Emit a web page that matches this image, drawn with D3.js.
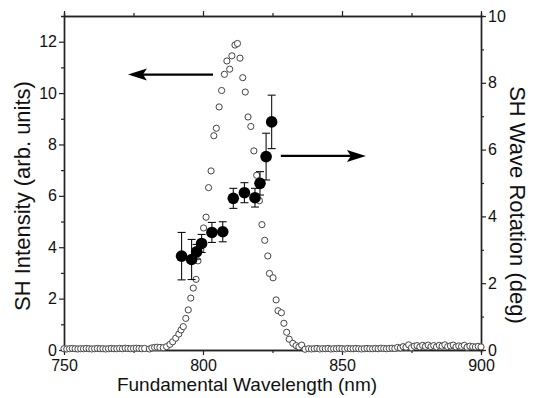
<!DOCTYPE html>
<html>
<head>
<meta charset="utf-8">
<script src="https://cdn.jsdelivr.net/npm/d3@7"></script>
<style>
  body { margin: 0; background: #fff; }
  text { font-family: "Liberation Sans", Arial, sans-serif; fill: #111; }
</style>
</head>
<body>
<svg width="534" height="398"></svg>
<script>
// SH intensity (open circles, left axis)
var shWl = [750,751,752,753,754,755,756,757,758,759,760,761,762,763,764,765,766,767,768,769,
  770,771,772,773,774,775,776,777,778,779,780.7,781.6,782.6,783.5,784.5,785.7,786.9,788.1,789.1,790.2,
  791.3,792.1,792.9,793.8,794.7,795.6,796.5,797.5,798.2,799.2,800.2,801.1,802,802.9,803.9,804.8,805.8,806.7,807.7,808.6,
  809.6,810.4,811.5,812.4,813.3,814.3,815.2,816.2,817.2,818.3,819.3,820.3,821.2,822.2,823.3,823.9,825.2,826.3,827,828.2,
  829.1,830.1,831,832.3,833.5,834.5,835.5,836.7,838,839,840,841,842,843,844,845,846,847,848,849,
  850,851,852,853,854,855,856,857,858,859,860,861,862,863,864,865,866,867,868,869,
  870,871,872,873,874,875,876,877,878,879,880,881,882,883,884,885,886,887,888,889,
  890,891,892,893,894,895,896,897,898,899,900];
var shInt = [0.05,0.04,0.05,0.06,0.05,0.04,0.05,0.05,0.06,0.05,0.04,0.05,0.06,0.05,0.05,0.04,0.05,0.06,0.05,0.05,
  0.06,0.05,0.07,0.06,0.05,0.06,0.07,0.06,0.05,0.06,0.04,0.08,0.1,0.11,0.1,0.09,0.13,0.22,0.32,0.46,
  0.62,0.78,0.91,1.23,1.56,2.02,2.41,2.75,3.47,3.9,4.75,5.17,6.32,6.97,8.34,8.63,9.46,10.1,10.73,11.25,
  10.93,11.45,11.87,11.93,11.36,10.6,10.04,9.07,8.7,7.75,6.8,5.81,4.88,4.27,3.66,2.98,2.81,1.95,1.53,1.45,
  1.04,0.69,0.42,0.26,0.17,0.12,0.19,0.03,0.05,0.04,0.05,0.06,0.04,0.05,0.05,0.06,0.04,0.05,0.05,0.06,
  0.05,0.04,0.06,0.05,0.05,0.06,0.05,0.04,0.05,0.06,0.05,0.05,0.06,0.05,0.07,0.06,0.05,0.06,0.07,0.06,
  0.1,0.08,0.13,0.11,0.2,0.09,0.15,0.17,0.12,0.18,0.14,0.19,0.13,0.17,0.12,0.18,0.15,0.2,0.13,0.16,
  0.19,0.12,0.16,0.14,0.18,0.11,0.15,0.13,0.12,0.14,0.12];

// SH wave rotation (filled circles, right axis)
var rotWl = [792.3, 795.9, 797.7, 799.5, 803.2, 807.1, 810.9, 814.9, 818.7, 820.5, 822.7, 824.7];
var rotDeg = [2.81, 2.71, 2.94, 3.19, 3.52, 3.54, 4.54, 4.71, 4.56, 4.99, 5.79, 6.83];
var rotErr = [0.71, 0.6, 0.22, 0.27, 0.3, 0.3, 0.3, 0.3, 0.28, 0.35, 0.7, 0.8];

var xTicks = [750, 800, 850, 900];
var yLeftTicks = [0, 2, 4, 6, 8, 10, 12];
var yRightTicks = [0, 2, 4, 6, 8, 10];

var svg = d3.select("svg"),
  mLeft = 64, mRight = 481, mTop = 16, mBottom = 350;

var x = d3.scaleLinear().domain([750, 900]).range([mLeft, mRight]);
var yL = d3.scaleLinear().domain([0, 13]).range([mBottom, mTop]);
var yR = d3.scaleLinear().domain([0, 10]).range([mBottom, mTop]);

function styleAxis(g) {
  g.select(".domain").attr("stroke", "#222").attr("stroke-width", 1.4);
  g.selectAll(".tick line").attr("stroke", "#222").attr("stroke-width", 1.2);
  g.selectAll(".tick text").style("font-size", "16px").attr("fill", "#111");
}

function minor(axisFn, scale, vals, size) {
  return axisFn(scale).tickValues(vals).tickSize(size).tickFormat("");
}

// minor ticks
svg.append("g").attr("transform", "translate(0," + mBottom + ")")
  .call(minor(d3.axisBottom, x, [775, 825, 875], 3)).call(styleAxis);
svg.append("g").attr("transform", "translate(0," + mTop + ")")
  .call(minor(d3.axisTop, x, [775, 825, 875], 3)).call(styleAxis);
svg.append("g").attr("transform", "translate(" + mLeft + ",0)")
  .call(minor(d3.axisLeft, yL, [1, 3, 5, 7, 9, 11], 3)).call(styleAxis);
svg.append("g").attr("transform", "translate(" + mRight + ",0)")
  .call(minor(d3.axisRight, yR, [1, 3, 5, 7, 9], 3)).call(styleAxis);

// major axes
svg.append("g").attr("transform", "translate(0," + mBottom + ")")
  .call(d3.axisBottom(x).tickValues(xTicks).tickSize(5).tickPadding(5).tickSizeOuter(0))
  .call(styleAxis);
svg.append("g").attr("transform", "translate(0," + mTop + ")")
  .call(d3.axisTop(x).tickValues(xTicks).tickSize(5).tickFormat("").tickSizeOuter(0))
  .call(styleAxis);
svg.append("g").attr("transform", "translate(" + mLeft + ",0)")
  .call(d3.axisLeft(yL).tickValues(yLeftTicks).tickSize(5).tickPadding(2).tickSizeOuter(0))
  .call(styleAxis);
svg.append("g").attr("transform", "translate(" + mRight + ",0)")
  .call(d3.axisRight(yR).tickValues(yRightTicks).tickSize(5).tickPadding(2).tickSizeOuter(0))
  .call(styleAxis);

// open circles
svg.append("g").selectAll("circle")
  .data(shWl)
  .enter().append("circle")
  .attr("cx", function(d) { return x(d); })
  .attr("cy", function(d, i) { return yL(shInt[i]); })
  .attr("r", 3.1)
  .attr("fill", "#fff")
  .attr("stroke", "#444")
  .attr("stroke-width", 1);

// error bars
var eb = svg.append("g").attr("stroke", "#111").attr("stroke-width", 1.1);
rotWl.forEach(function(w, i) {
  var cx = x(w), y1 = yR(rotDeg[i] + rotErr[i]), y2 = yR(rotDeg[i] - rotErr[i]);
  eb.append("line").attr("x1", cx).attr("x2", cx).attr("y1", y1).attr("y2", y2);
  eb.append("line").attr("x1", cx - 4).attr("x2", cx + 4).attr("y1", y1).attr("y2", y1);
  eb.append("line").attr("x1", cx - 4).attr("x2", cx + 4).attr("y1", y2).attr("y2", y2);
});

// filled circles
svg.append("g").selectAll("circle")
  .data(rotWl)
  .enter().append("circle")
  .attr("cx", function(d) { return x(d); })
  .attr("cy", function(d, i) { return yR(rotDeg[i]); })
  .attr("r", 5.8)
  .attr("fill", "#000");

// arrows (in data units)
function arrow(w0, w1, yv, scale) {
  var x0 = x(w0), x1 = x(w1), yy = scale(yv), dir = x1 > x0 ? 1 : -1;
  var back = x1 - dir * 19;
  svg.append("line").attr("x1", x0).attr("x2", back + dir * 4).attr("y1", yy).attr("y2", yy)
    .attr("stroke", "#000").attr("stroke-width", 2.2);
  svg.append("path")
    .attr("d", "M" + x1 + "," + yy + "L" + back + "," + (yy - 6) + "L" + (back + dir * 4) + "," + yy +
      "L" + back + "," + (yy + 6) + "Z")
    .attr("fill", "#000");
}
arrow(803.6, 773, 10.72, yL);
arrow(828, 858.6, 5.81, yR);

// axis titles
svg.append("text")
  .attr("x", 247).attr("y", 391)
  .attr("text-anchor", "middle")
  .style("font-size", "19px")
  .text("Fundamental Wavelength (nm)");
svg.append("text")
  .attr("transform", "translate(30,196) rotate(-90)")
  .attr("text-anchor", "middle")
  .style("font-size", "22px")
  .text("SH Intensity (arb. units)");
svg.append("text")
  .attr("transform", "translate(510,205) rotate(90)")
  .attr("text-anchor", "middle")
  .style("font-size", "22px")
  .text("SH Wave Rotation (deg)");
</script>
</body>
</html>
